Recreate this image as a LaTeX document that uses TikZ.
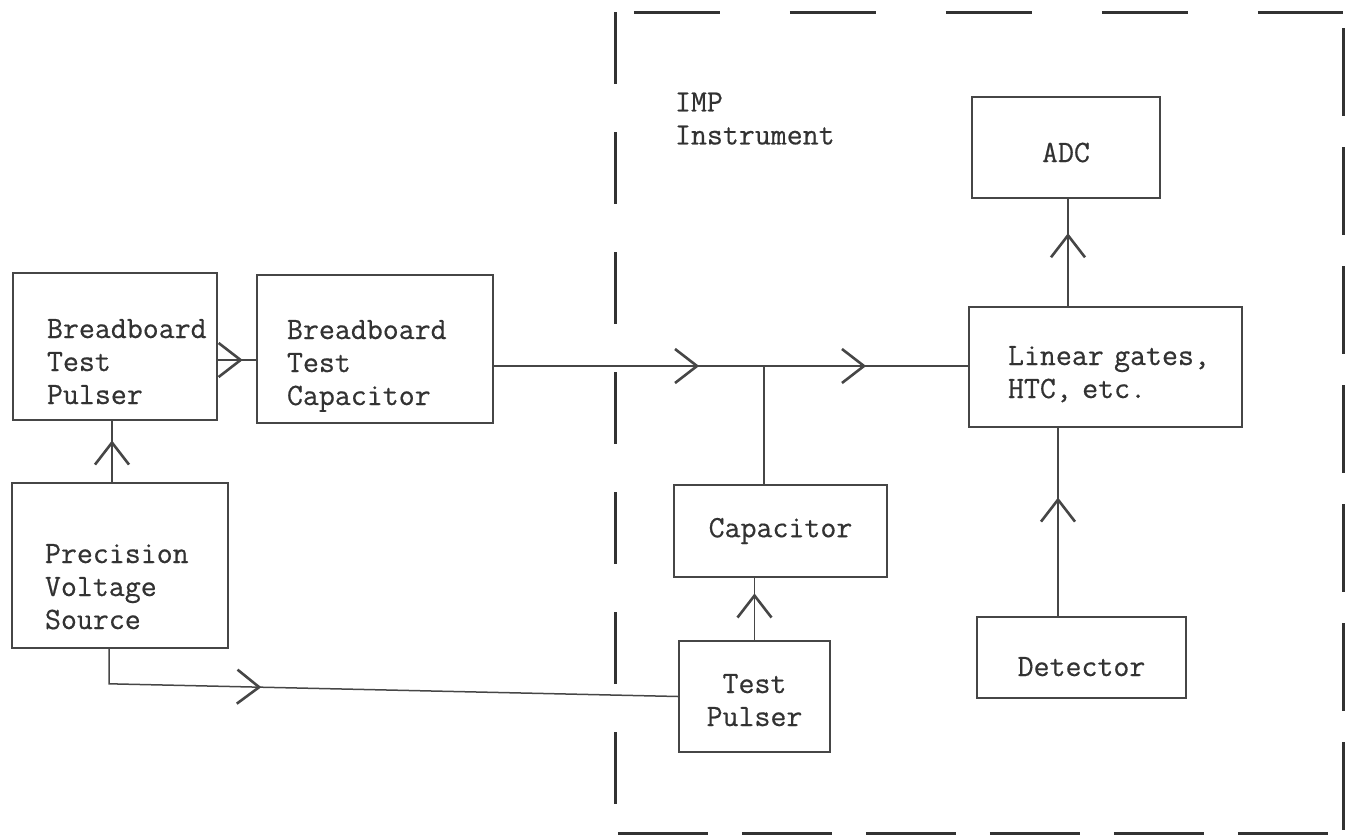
\documentclass[tikz,border=0pt]{standalone}
\usepackage{fontspec}
\setmonofont{Latin Modern Mono}[FakeBold=0.5]
\usepackage{tikz}
\usetikzlibrary{arrows.meta,decorations.markings,positioning}
\definecolor{inkgray}{RGB}{50,50,50}
\definecolor{penline}{RGB}{70,70,70}

\begin{document}
\begin{tikzpicture}[
    x=1pt, y=-1pt,
    every node/.style={font=\fontsize{31pt}{33pt}\selectfont\ttfamily, text=inkgray},
    block/.style={rectangle, draw=penline, line width=1.6pt, inner ysep=0pt},
    boundary/.style={draw=inkgray, line width=3.2pt},
    wire/.style={draw=penline, line width=1.5pt},
    flow/.style={wire, postaction={decorate, decoration={markings, mark=at position #1 with {\arrow[penline]{Straight Barb[length=22pt, width=34pt, line width=2.6pt]}}}}}
]
\useasboundingbox (0,0) rectangle (1353,839);

% IMP instrument enclosure
\node[rectangle, minimum width=727pt, minimum height=821pt] (imp) at (979.5,423) {};
\draw[boundary, dash pattern=on 86pt off 70pt, dash phase=138pt] (imp.north west) -- (imp.north east);
\draw[boundary, dash pattern=on 72pt off 48pt] (imp.north west) -- (imp.south west);
\draw[boundary, dash pattern=on 90pt off 34pt, dash phase=122pt] (imp.south west) -- (imp.south east);
\draw[boundary, dash pattern=on 88pt off 31pt, dash phase=103pt] (imp.north east) -- (imp.south east);
\node[anchor=north west, inner sep=0pt, align=left] (implabel) at ([shift={(59pt,-80pt)}]imp.north west) {IMP\\Instrument};

% Breadboard side
\node[block, minimum width=204pt, minimum height=147pt, text width=136pt, inner xsep=34pt, align=left, text height=19pt, text depth=36pt] (bbpulser) at (115,346.5) {Breadboard\\Test\\Pulser};
\node[block, minimum width=236pt, minimum height=148pt, text width=176pt, inner xsep=30pt, align=left, text height=19pt, text depth=39pt] (bbcap) at (375,349) {Breadboard\\Test\\Capacitor};
\node[block, minimum width=216pt, minimum height=165pt, text width=150pt, inner xsep=33pt, align=left, text height=19pt, text depth=24pt] (pvs) at (120,565.5) {Precision\\Voltage\\Source};

% Instrument side
\node[block, minimum width=188pt, minimum height=101pt, text height=29pt, text depth=0pt] (adc) at (1066,147.5) {ADC};
\node[block, minimum width=273pt, minimum height=120pt, text width=195pt, inner xsep=39pt, align=left, text height=19pt, text depth=23pt] (linear) at (1105.5,367) {Linear~gates,\\HTC,~etc.};
\node[block, minimum width=213pt, minimum height=92pt] (cap) at (780.5,531) {Capacitor};
\node[block, minimum width=151pt, minimum height=111pt, text width=100pt, inner xsep=25.5pt, align=center, text height=19pt, text depth=26pt] (testpulser) at (754.5,696.5) {Test\\Pulser};
\node[block, minimum width=209pt, minimum height=81pt, text height=37pt, text depth=0pt] (detector) at (1081.5,657.5) {Detector};

% Connections
\coordinate (junction) at (764,366);
\draw[flow=0.68] ([xshift=-8pt]pvs.north) -- ([xshift=-3pt]bbpulser.south);
\draw[flow=0.65] ([yshift=-13.5pt]bbpulser.east) -- ([yshift=-11pt]bbcap.west);
\draw[flow=0.76] ([yshift=-17pt]bbcap.east) -- (junction);
\draw[flow=0.50] (junction) -- (junction -| linear.west);
\draw[wire] (junction) -- (junction |- cap.north);
\draw[flow=0.75] (testpulser.north) -- (testpulser.north |- cap.south);
\draw[flow=0.63] ([xshift=-23.5pt]detector.north) -- ([xshift=-23.5pt]detector.north |- linear.south);
\draw[flow=0.68] ([xshift=2pt]adc.south |- linear.north) -- ([xshift=2pt]adc.south);
\draw[flow=0.31] ([xshift=-11pt]pvs.south) -- ++(0,35) -- (testpulser.west);

\end{tikzpicture}
\end{document}
